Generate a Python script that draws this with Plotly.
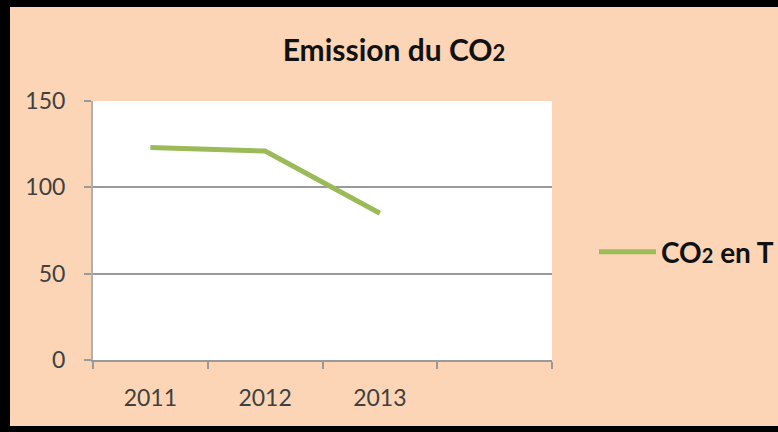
import plotly.graph_objects as go

# data
years = ["2011", "2012", "2013"]
co2_tonnes = [123, 121, 85]
x_categories = ["2011", "2012", "2013", " "]
y_ticks = [0, 50, 100, 150]

W, H = 778, 432
L, R, T, B = 93, 226, 101, 72
PEACH = "#FBD5B5"
GREEN = "#9BBB59"
FONT = "Lato, 'Open Sans', sans-serif"


def px_x(p):
    return (p - L) / (W - L - R)


def px_y(p):
    return (H - B - p) / (H - T - B)


fig = go.Figure()
fig.add_trace(
    go.Scatter(
        x=years,
        y=co2_tonnes,
        mode="lines",
        name="<b>CO<span style='font-size:20px'>2</span> en T</b>",
        line={"color": GREEN, "width": 5},
    )
)

# black frame round the chart
frame = [
    (0, 0, 10, H),
    (0, 0, W, 7),
    (0, 426, W, H),
]
shapes = [
    dict(
        type="rect", xref="paper", yref="paper",
        x0=px_x(a), x1=px_x(c), y0=px_y(d), y1=px_y(b),
        fillcolor="black", line={"width": 0}, layer="above",
    )
    for a, b, c, d in frame
]

fig.update_layout(
    width=W,
    height=H,
    margin={"l": L, "r": R, "t": T, "b": B, "autoexpand": False},
    paper_bgcolor=PEACH,
    plot_bgcolor="white",
    font={"family": FONT, "color": "#404040", "size": 23},
    title={
        "text": "<b>Emission du CO<span style='font-size:22px'>2</span></b>",
        "x": px_x(394), "xanchor": "center",
        "xref": "paper",
        "y": 1 - 50 / H, "yanchor": "middle",
        "font": {"size": 30, "color": "#111111"},
    },
    showlegend=True,
    legend={
        "x": px_x(594), "xanchor": "left",
        "y": px_y(252), "yanchor": "middle",
        "bgcolor": "rgba(0,0,0,0)",
        "font": {"size": 28, "color": "#111111"},
        "itemwidth": 57,
    },
    shapes=shapes,
)
fig.update_xaxes(
    type="category",
    categoryorder="array",
    categoryarray=x_categories,
    range=[-0.5, 3.5],
    tickson="boundaries",
    ticks="outside",
    ticklen=7,
    tickwidth=2,
    tickcolor="#9a9a9a",
    ticklabelstandoff=16,
    showline=True,
    linecolor="#9a9a9a",
    linewidth=2,
    showgrid=False,
)
fig.update_yaxes(
    range=[0, 150],
    tickvals=y_ticks,
    ticks="outside",
    ticklen=7,
    tickwidth=2,
    tickcolor="#9a9a9a",
    ticklabelstandoff=14,
    showline=True,
    linecolor="#b0b0b0",
    linewidth=2,
    showgrid=True,
    gridcolor="#9a9a9a",
    gridwidth=2,
    zeroline=False,
)

# the page body has a default 8px margin; drop it so the figure sits at 0,0
fig.write_html(
    "out.html",
    config={"displayModeBar": False},
    post_script="document.body.style.margin='0';document.body.style.overflow='hidden';",
)
